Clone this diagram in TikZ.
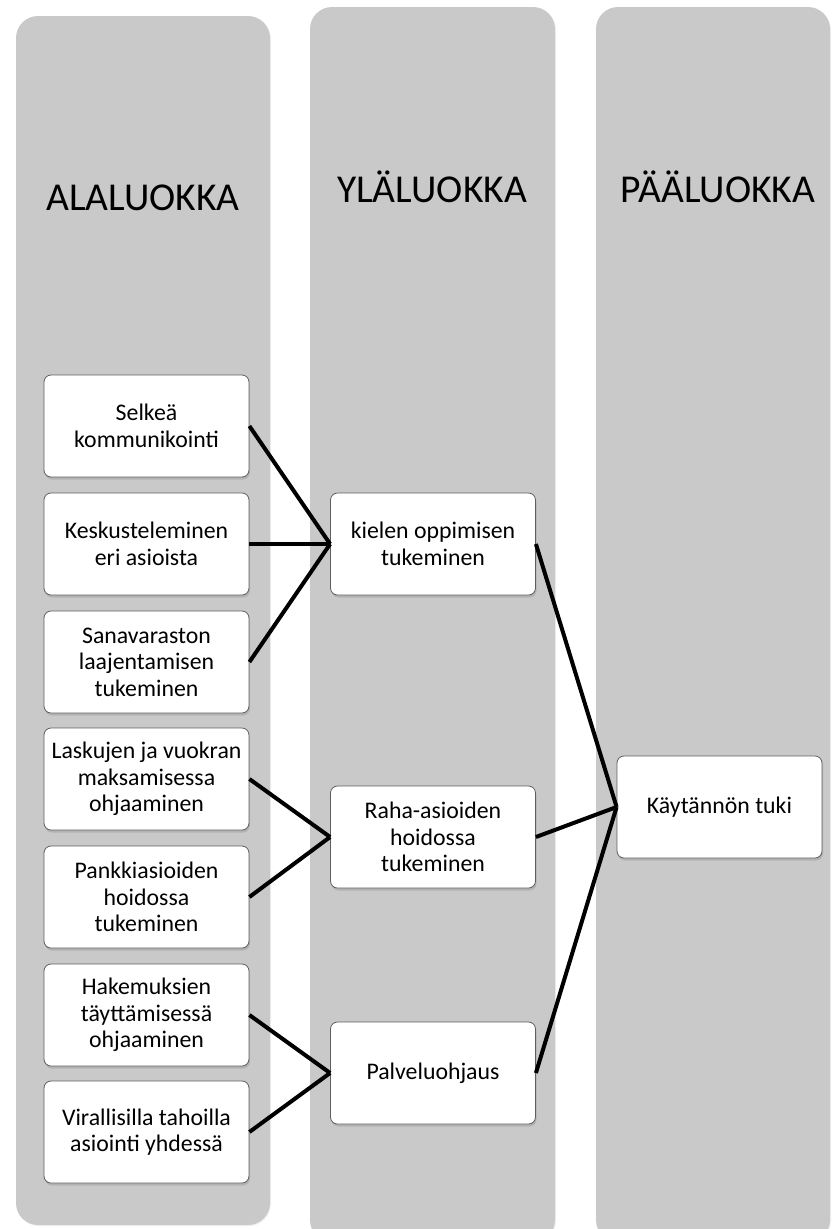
\documentclass[tikz,border=0pt]{standalone}
\usepackage{fontspec}
\setmainfont{Carlito}
\usetikzlibrary{calc}
\usetikzlibrary{shadows}
\usepackage{xcolor}
\definecolor{colgray}{HTML}{C9C9C9}
\definecolor{boxedge}{HTML}{5E5E5E}

\begin{document}
\begin{tikzpicture}[x=1pt, y=-1pt,
  column/.style={fill=colgray, rounded corners=22pt, drop shadow={opacity=0.12, shadow xshift=1pt, shadow yshift=-1pt}},
  heading/.style={anchor=base, font=\fontsize{39.5}{47}\selectfont},
  item/.style={draw=boxedge, line width=0.8pt, fill=white, rounded corners=7pt,
    minimum width=205pt, minimum height=102pt, inner sep=3pt,
    align=center, font=\fontsize{23.8}{26.5}\selectfont,
    drop shadow={opacity=0.3, shadow xshift=1pt, shadow yshift=-2.5pt}},
  link/.style={line width=4pt}]
\pgfmathsetmacro{\lowx}{146.5}
\pgfmathsetmacro{\midx}{433}
\pgfmathsetmacro{\topx}{719.5}

\useasboundingbox (0,0) rectangle (832,1229);

\fill [column] (16,16) rectangle (270,1225);
\fill [column] (310,7) rectangle (555,1242);
\fill [column] (596,7) rectangle (830,1242);

\node [heading] (alaluokka) at (143,210) {ALALUOKKA};
\node [heading] (ylaluokka) at (432,202) {YLÄLUOKKA};
\node [heading] (paaluokka) at (718,202) {PÄÄLUOKKA};

\node [item] (selkea) at (\lowx,426) {Selkeä\\kommunikointi};
\node [item] (keskustelu) at (\lowx,544) {Keskusteleminen\\eri asioista};
\node [item] (sanavarasto) at (\lowx,662) {Sanavaraston\\laajentamisen\\tukeminen};
\node [item] (laskut) at (\lowx,779) {Laskujen ja vuokran\\maksamisessa\\ohjaaminen};
\node [item] (pankki) at (\lowx,897) {Pankkiasioiden\\hoidossa\\tukeminen};
\node [item] (hakemus) at (\lowx,1015) {Hakemuksien\\täyttämisessä\\ohjaaminen};
\node [item] (asiointi) at (\lowx,1132) {Virallisilla tahoilla\\asiointi yhdessä};

\node [item] (kieli) at (\midx,544) {kielen oppimisen\\tukeminen};
\node [item] (raha) at (\midx,837) {Raha-asioiden\\hoidossa\\tukeminen};
\node [item] (palvelu) at (\midx,1073) {Palveluohjaus};

\node [item] (tuki) at (\topx,807) {Käytännön tuki};

\draw [link] (selkea.east) -- (kieli.west);
\draw [link] (keskustelu.east) -- (kieli.west);
\draw [link] (sanavarasto.east) -- (kieli.west);
\draw [link] (laskut.east) -- (raha.west);
\draw [link] (pankki.east) -- (raha.west);
\draw [link] (hakemus.east) -- (palvelu.west);
\draw [link] (asiointi.east) -- (palvelu.west);
\draw [link] (kieli.east) -- (tuki.west);
\draw [link] (raha.east) -- (tuki.west);
\draw [link] (palvelu.east) -- (tuki.west);
\end{tikzpicture}
\end{document}
